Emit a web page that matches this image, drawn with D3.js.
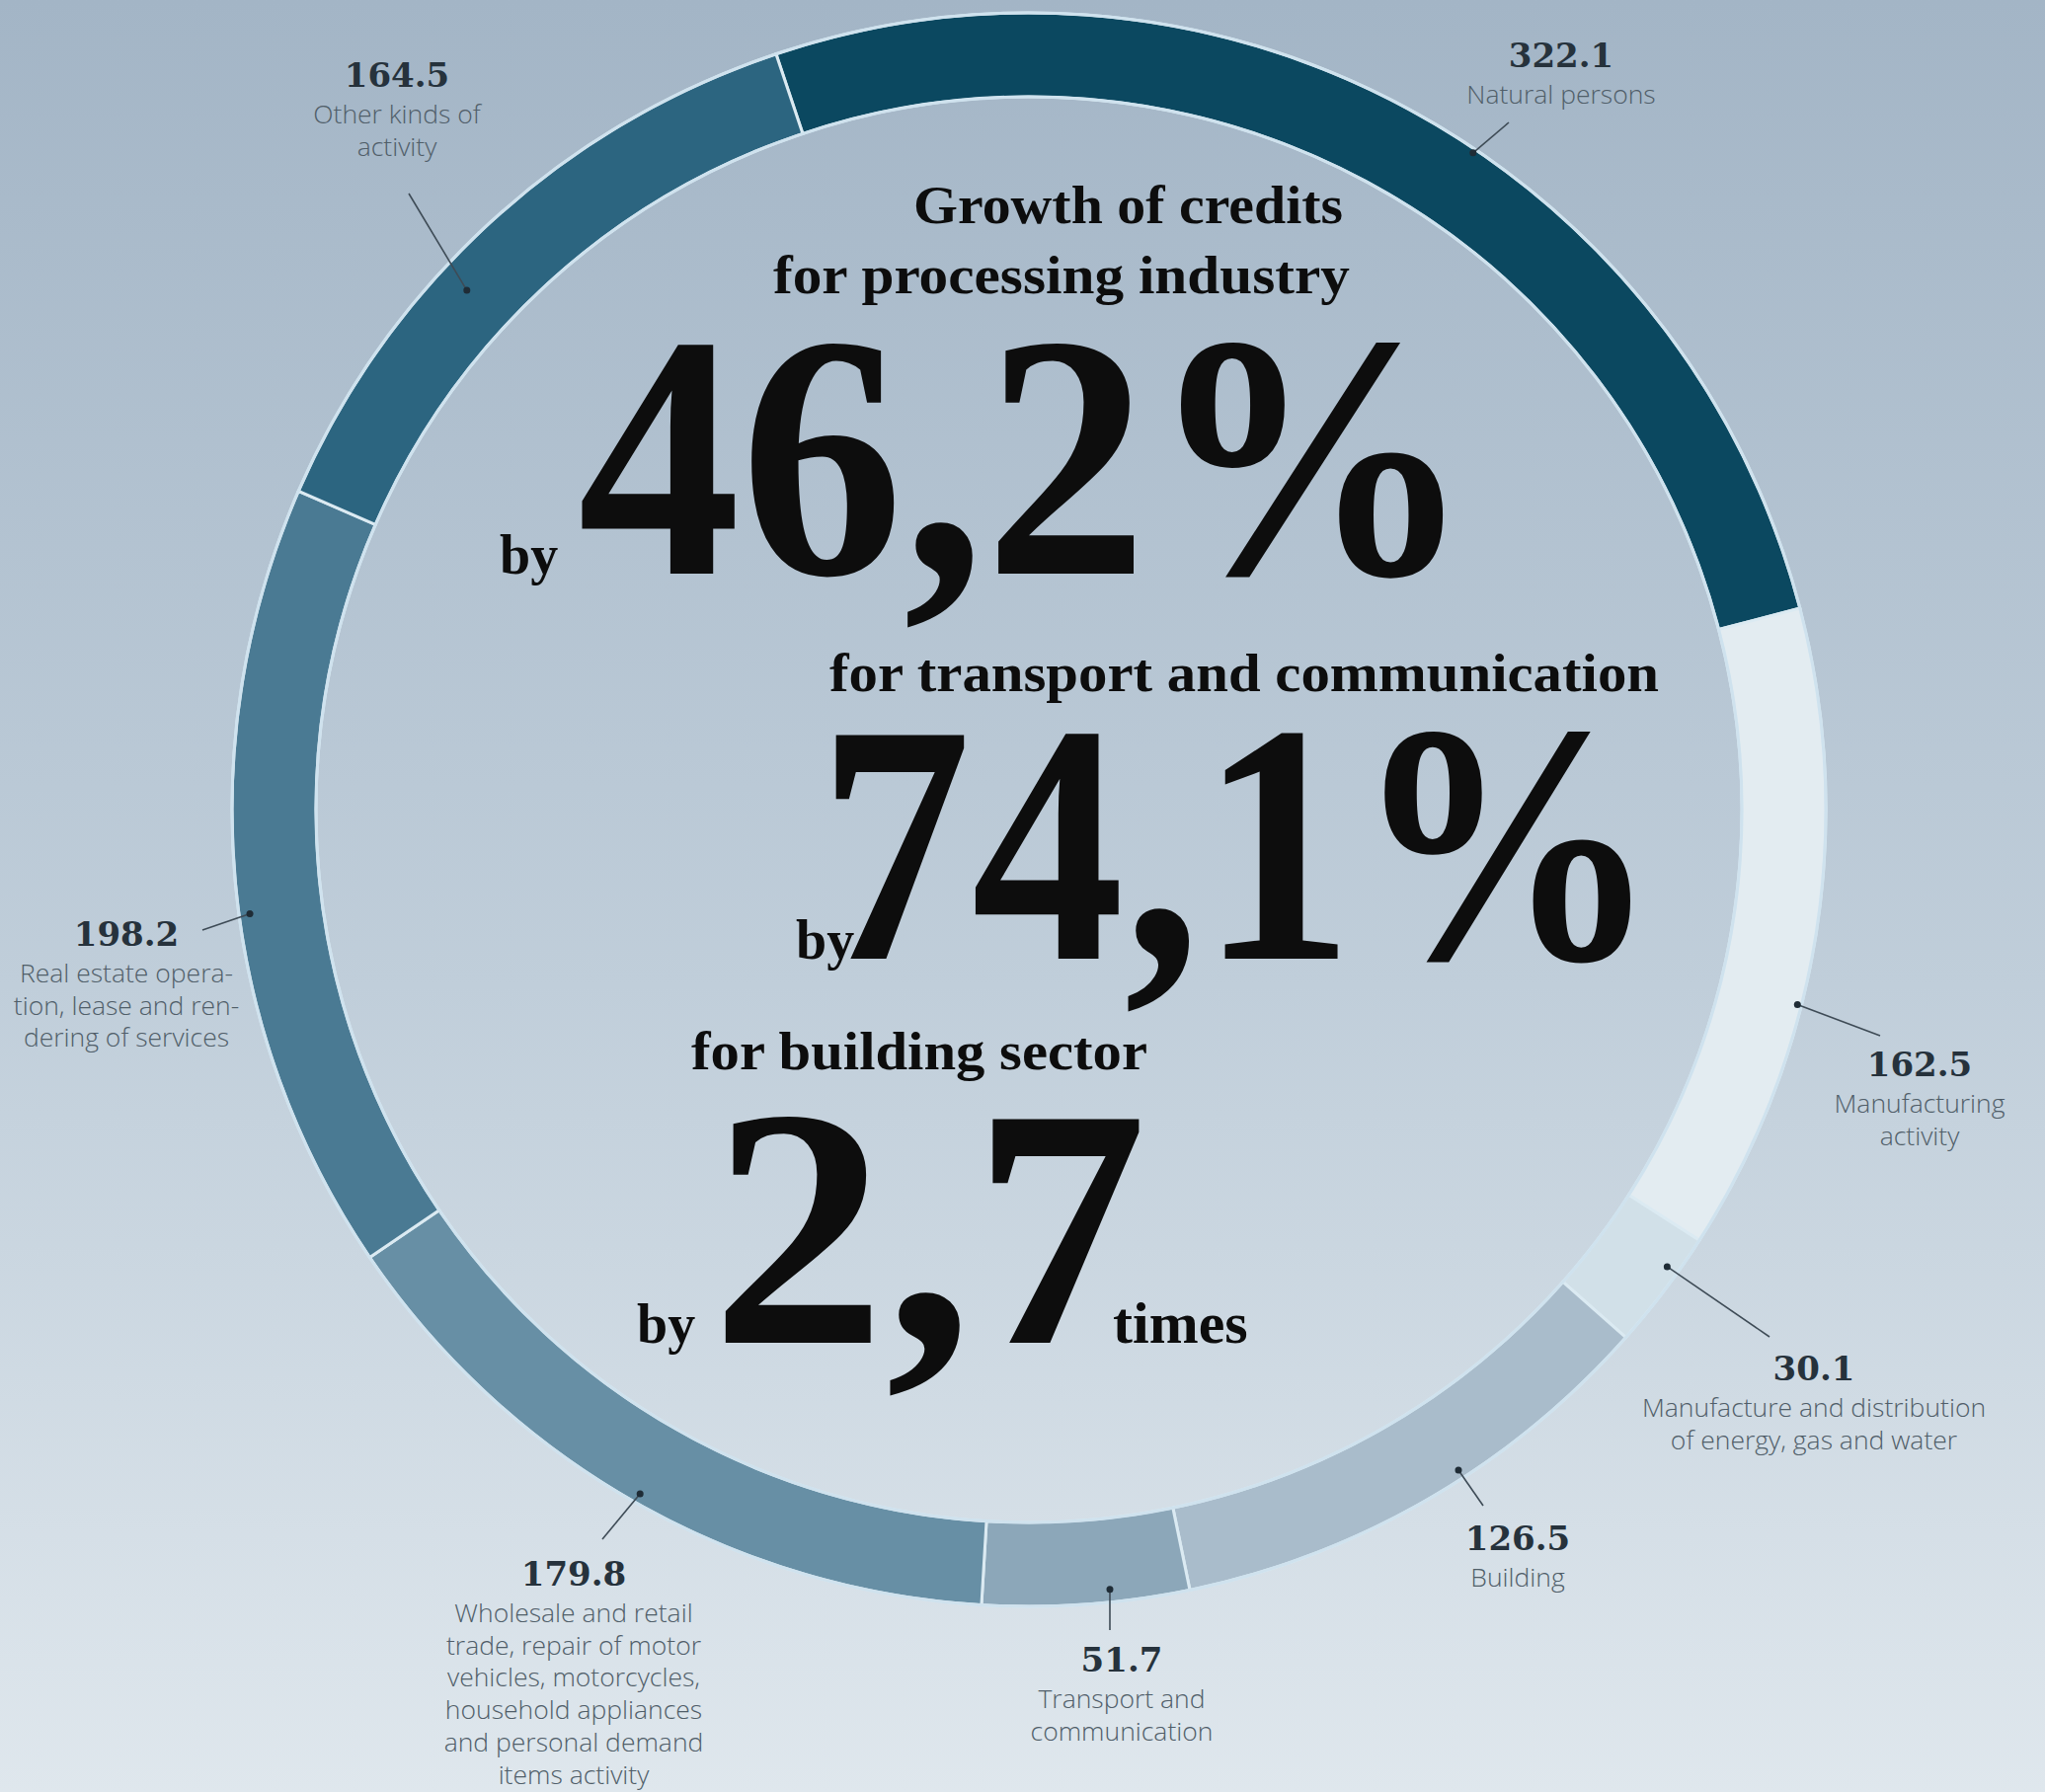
<!DOCTYPE html>
<html>
<head>
<meta charset="utf-8">
<script src="https://cdn.jsdelivr.net/npm/d3@7"></script>
<style>
  html, body { margin: 0; padding: 0; background: #c0cdd8; }
  svg { display: block; }
</style>
</head>
<body>
<div id="chart"></div>
<script>
// ---------- DATA ----------
const categories = [
  "Natural persons",
  "Manufacturing activity",
  "Manufacture and distribution of energy, gas and water",
  "Building",
  "Transport and communication",
  "Wholesale and retail trade",
  "Real estate operation, lease and rendering of services",
  "Other kinds of activity"
];
const values = [322.1, 162.5, 30.1, 126.5, 51.7, 179.8, 198.2, 164.5];
const valueLabels = ["322.1", "162.5", "30.1", "126.5", "51.7", "179.8", "198.2", "164.5"];
const labelLines = [
  ["Natural persons"],
  ["Manufacturing", "activity"],
  ["Manufacture and distribution", "of energy, gas and water"],
  ["Building"],
  ["Transport and", "communication"],
  ["Wholesale and retail", "trade, repair of motor", "vehicles, motorcycles,", "household appliances", "and personal demand", "items activity"],
  ["Real estate opera-", "tion, lease and ren-", "dering of services"],
  ["Other kinds of", "activity"]
];
const headlines = [
  "Growth of credits",
  "for processing industry",
  "for transport and communication",
  "for building sector"
];
const bigFigures = ["46,2%", "74,1%", "2,7"];
const bigPrefix = ["by", "by", "by"];
const bigSuffix = ["", "", "times"];

// ---------- STYLE / LAYOUT ----------
const W = 2071, H = 1815;
const cx = 1042, cy = 820;
const R = 807, r = 722;
const colors = ["#0b4860", "#e3ecf1", "#d1e0e8", "#a9bccb", "#8ca7b9", "#678fa5", "#4a7a93", "#2c6580"];
const startDeg = -18.5;

// label layout: fraction along segment for leader dot, dot radius, leader end, text anchor
const labelLayout = [
  {f: 0.56, dr: 803, ex: 1528, ey: 124, tx: 1581, ty: 68},
  {f: 0.61, dr: 803, ex: 1904, ey: 1049, tx: 1944, ty: 1090},
  {f: 0.33, dr: 795, ex: 1792, ey: 1354, tx: 1837, ty: 1398},
  {f: 0.42, dr: 798, ex: 1502, ey: 1525, tx: 1537, ty: 1570},
  {f: 0.38, dr: 794, ex: 1124, ey: 1651, tx: 1136, ty: 1693},
  {f: 0.50, dr: 797, ex: 610,  ey: 1559, tx: 581,  ty: 1606},
  {f: 0.46, dr: 796, ex: 205,  ey: 942,  tx: 128,  ty: 958},
  {f: 0.40, dr: 775, ex: 414,  ey: 196,  tx: 402,  ty: 88}
];

const svg = d3.select("#chart").append("svg")
  .attr("width", W).attr("height", H)
  .attr("viewBox", `0 0 ${W} ${H}`);

const defs = svg.append("defs");
const grad = defs.append("linearGradient").attr("id", "bg")
  .attr("x1", 0).attr("y1", 0).attr("x2", 0).attr("y2", 1);
grad.append("stop").attr("offset", "0%").attr("stop-color", "#a3b5c6");
grad.append("stop").attr("offset", "55%").attr("stop-color", "#c0ceda");
grad.append("stop").attr("offset", "100%").attr("stop-color", "#dfe7ed");

svg.append("rect").attr("width", W).attr("height", H).attr("fill", "url(#bg)");

// ---------- RING ----------
const toRad = d => d * Math.PI / 180;
const pie = d3.pie().sort(null).value(d => d)
  .startAngle(toRad(startDeg)).endAngle(toRad(startDeg) + 2 * Math.PI);
const arcs = pie(values);
const arc = d3.arc().innerRadius(r).outerRadius(R);

const g = svg.append("g").attr("transform", `translate(${cx},${cy})`);

g.selectAll("path.seg").data(arcs).enter().append("path")
  .attr("class", "seg")
  .attr("d", arc)
  .attr("fill", (d, i) => colors[i])
  .attr("stroke", "#dbeaf2")
  .attr("stroke-width", 3)
  .attr("stroke-linejoin", "miter");

// edge outlines
g.append("circle").attr("r", R).attr("fill", "none").attr("stroke", "#cfe2ee").attr("stroke-width", 3);
g.append("circle").attr("r", r).attr("fill", "none").attr("stroke", "#cfe2ee").attr("stroke-width", 3);

// ---------- LEADERS & LABELS ----------
const lab = svg.append("g");
arcs.forEach((a, i) => {
  const L = labelLayout[i];
  const ang = a.startAngle + (a.endAngle - a.startAngle) * L.f;
  const dx = cx + L.dr * Math.sin(ang);
  const dy = cy - L.dr * Math.cos(ang);
  lab.append("line")
    .attr("x1", dx).attr("y1", dy).attr("x2", L.ex).attr("y2", L.ey)
    .attr("stroke", "#3e4b56").attr("stroke-width", 1.6);
  lab.append("circle").attr("cx", dx).attr("cy", dy).attr("r", 3.5).attr("fill", "#1f2c36");

  lab.append("text")
    .attr("x", L.tx).attr("y", L.ty)
    .attr("text-anchor", "middle")
    .attr("font-family", "'DejaVu Serif', serif")
    .attr("font-weight", "bold")
    .attr("font-size", 34)
    .attr("fill", "#26323c")
    .text(valueLabels[i]);
  labelLines[i].forEach((t, j) => {
    lab.append("text")
      .attr("x", L.tx).attr("y", L.ty + 37 + 32.7 * j)
      .attr("text-anchor", "middle")
      .attr("font-family", "'Open Sans', sans-serif")
      .attr("font-weight", 300)
      .attr("font-size", 26.5)
      .attr("fill", "#505e69")
      .text(t);
  });
});

// ---------- CENTRAL TEXT ----------
const serif = "'Liberation Serif', 'Times New Roman', serif";
const tg = svg.append("g").attr("fill", "#0d0d0d").attr("font-family", serif).attr("font-weight", "bold");

const headLayout = [
  {x: 925, y: 226, len: 435, fs: 54},
  {x: 783, y: 297, len: 584, fs: 54},
  {x: 840, y: 700, len: 840, fs: 54},
  {x: 700, y: 1083, len: 462, fs: 54}
];
headlines.forEach((t, i) => {
  const h = headLayout[i];
  tg.append("text").attr("x", h.x).attr("y", h.y)
    .attr("font-size", h.fs)
    .attr("textLength", h.len).attr("lengthAdjust", "spacingAndGlyphs")
    .text(t);
});

const bigLayout = [
  {x: 585, y: 581, len: 907, fs: 352, bx: 506, sx: 0},
  {x: 829, y: 971, len: 851, fs: 346, bx: 806, sx: 0},
  {x: 720, y: 1360, len: 442, fs: 346, bx: 645, sx: 1127}
];
bigFigures.forEach((t, i) => {
  const b = bigLayout[i];
  tg.append("text").attr("x", b.x).attr("y", b.y)
    .attr("font-size", b.fs)
    .attr("textLength", b.len).attr("lengthAdjust", "spacingAndGlyphs")
    .text(t);
  tg.append("text").attr("x", b.bx).attr("y", b.y)
    .attr("font-size", 56)
    .text(bigPrefix[i]);
  if (bigSuffix[i]) {
    tg.append("text").attr("x", b.sx).attr("y", b.y)
      .attr("font-size", 60)
      .text(bigSuffix[i]);
  }
});
</script>
</body>
</html>
